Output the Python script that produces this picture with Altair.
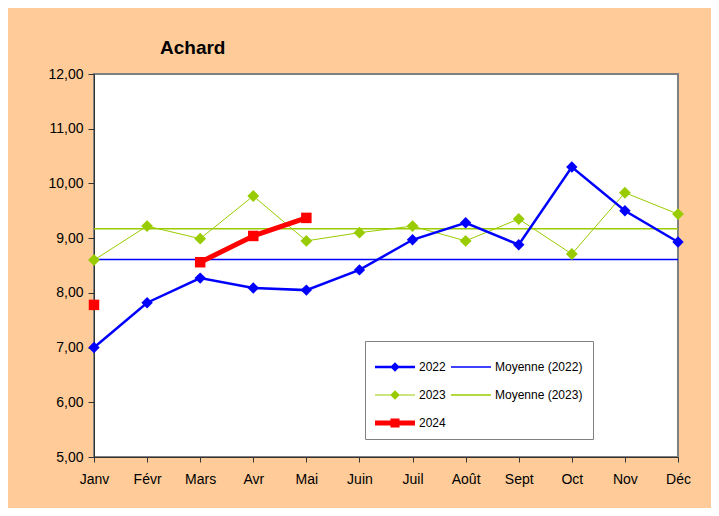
import altair as alt
import pandas as pd

months = ["Janv", "Févr", "Mars", "Avr", "Mai", "Juin", "Juil", "Août", "Sept", "Oct", "Nov", "Déc"]
v2022 = [7.00, 7.82, 8.27, 8.09, 8.05, 8.42, 8.97, 9.28, 8.88, 10.30, 9.50, 8.93]
v2023 = [8.60, 9.22, 8.99, 9.77, 8.95, 9.10, 9.22, 8.95, 9.35, 8.71, 9.83, 9.44]
v2024 = [7.78, None, 8.56, 9.04, 9.37, None, None, None, None, None, None, None]
moy2022 = 8.61
moy2023 = 9.17

# legend fills column by column: first column 2022/2023/2024, second the averages
series_order = ["2022", "2023", "2024", "Moyenne (2022)", "Moyenne (2023)"]
series_colors = ["#0000FF", "#99CC00", "#FF0000", "#0000FF", "#99CC00"]
col_of = dict(zip(series_order, series_colors))

rows = []
for name, vals in [("2022", v2022), ("2023", v2023), ("2024", v2024),
                   ("Moyenne (2022)", [moy2022] * 12), ("Moyenne (2023)", [moy2023] * 12)]:
    seg = 0
    for i, (m, v) in enumerate(zip(months, vals)):
        if v is None:
            seg += 1
            continue
        rows.append({"month": m, "idx": i, "value": v, "series": name, "seg": seg})
df = pd.DataFrame(rows)

FONT = "Liberation Sans, Arial, sans-serif"

x_enc = alt.X("month:O", scale=alt.Scale(type="point", domain=months, padding=0),
              axis=alt.Axis(title=None, labelAngle=0, labelFontSize=14, labelFont=FONT,
                            labelColor="black", tickSize=5, tickColor="#333333",
                            domainColor="#333333", labelPadding=10))
y_enc = alt.Y("value:Q", scale=alt.Scale(domain=[5, 12], nice=False, zero=False),
              axis=alt.Axis(title=None, values=[5, 6, 7, 8, 9, 10, 11, 12], grid=False,
                            labelExpr="replace(format(datum.value, '.2f'), '.', ',')",
                            labelFontSize=14, labelFont=FONT, labelColor="black",
                            tickSize=6, tickColor="#333333", domainColor="#333333",
                            labelPadding=5))

base = alt.Chart(df)


def line_layer(name, width):
    return base.transform_filter(alt.datum.series == name).mark_line(
        strokeWidth=width, color=col_of[name]
    ).encode(x=x_enc, y=y_enc, detail="seg:N", order=alt.Order("idx:Q"))


def point_layer(name, shape, size):
    return base.transform_filter(alt.datum.series == name).mark_point(
        filled=True, opacity=1, shape=shape, size=size, color=col_of[name]
    ).encode(x=x_enc, y=y_enc)


def sym(h, marker, r):
    c = 2.333
    p = f"M-1,{-h}L5.667,{-h}L5.667,{h}L-1,{h}Z"
    if marker == "diamond":
        p += f"M{c},{-r}L{c + r},0L{c},{r}L{c - r},0Z"
    elif marker == "square":
        p += f"M{c - r},{-r}L{c + r},{-r}L{c + r},{r}L{c - r},{r}Z"
    return p


legend_shapes = [sym(0.21, "diamond", 0.8), sym(0.1, "diamond", 0.8), sym(0.42, "square", 0.75),
                 sym(0.13, None, 0), sym(0.13, None, 0)]

legend_layer = base.transform_filter("false").mark_point(filled=True, opacity=1).encode(
    color=alt.Color("series:N", scale=alt.Scale(domain=series_order, range=series_colors),
                    legend=alt.Legend(title=" ", orient="none", legendX=271, legendY=267,
                                      columns=2, columnPadding=5, rowPadding=16,
                                      symbolSize=144, symbolStrokeWidth=0,
                                      labelOffset=32, labelFontSize=12, labelFont=FONT,
                                      labelColor="black", titleFontSize=6,
                                      titlePadding=4, padding=10,
                                      fillColor="white", strokeColor="#808080",
                                      direction="vertical")),
    shape=alt.Shape("series:N", scale=alt.Scale(domain=series_order, range=legend_shapes)),
)

chart = alt.layer(
    line_layer("Moyenne (2022)", 1.6),
    line_layer("Moyenne (2023)", 1.5),
    line_layer("2023", 1),
    point_layer("2023", "diamond", 140),
    line_layer("2022", 2.5),
    point_layer("2022", "diamond", 130),
    line_layer("2024", 5),
    point_layer("2024", "square", 110),
    legend_layer,
).properties(
    width=584, height=383,
    padding={"left": 86, "top": 66, "right": 33, "bottom": 51},
    autosize=alt.AutoSizeParams(type="none"),
    background="#FFCC99",
    view=alt.ViewBackground(fill="white", stroke="#808080", strokeWidth=2),
    title=alt.TitleParams("Achard", anchor="start", frame="group", dx=66, dy=18, offset=12,
                          fontSize=19, font=FONT, fontWeight="bold", color="black",
                          baseline="alphabetic"),
)

chart.save("out.html", embed_options={"renderer": "svg", "actions": False})
